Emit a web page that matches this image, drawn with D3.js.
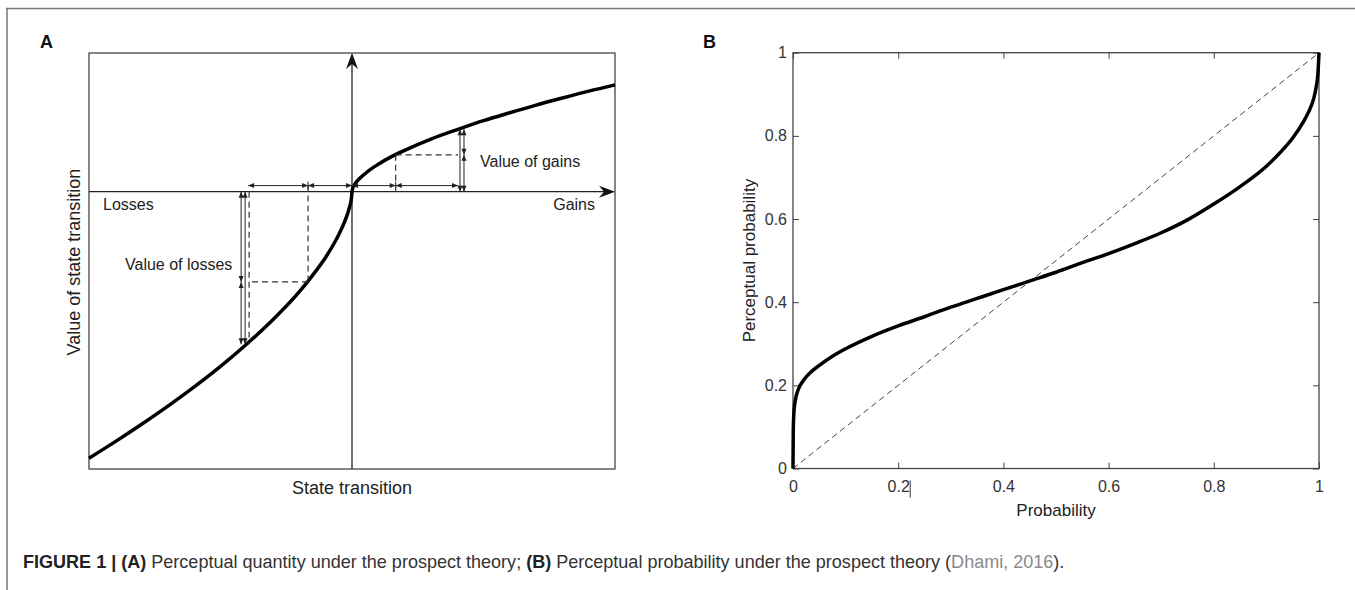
<!DOCTYPE html>
<html><head><meta charset="utf-8">
<script src="https://cdn.jsdelivr.net/npm/d3@7"></script>
<style>
body{margin:0;background:#fff}
svg{display:block}
text{font-family:"Liberation Sans",Arial,Helvetica,sans-serif}
</style>
</head><body>
<svg id="c" width="1355" height="590"></svg>
<script>
// ---------- Panel A data (value function) ----------
const gainX = [0, 0.002, 0.01, 0.03, 0.06, 0.1, 0.15, 0.2, 0.3, 0.4, 0.5, 0.6, 0.7, 0.8, 0.9, 1.0];
const gainV = [0, 0.010, 0.027, 0.051, 0.077, 0.104, 0.133, 0.157, 0.200, 0.236, 0.270, 0.300, 0.329, 0.356, 0.382, 0.406];
const lossX = [-1.0, -0.9, -0.8, -0.7, -0.6, -0.5, -0.4, -0.3, -0.2, -0.15, -0.1, -0.06, -0.03, -0.01, -0.002];
const lossV = [-1.013, -0.950, -0.884, -0.815, -0.742, -0.664, -0.579, -0.486, -0.380, -0.318, -0.249, -0.182, -0.119, -0.061, -0.023];
const exampleGainX = [0.166, 0.403];
const exampleGainV = [0.140, 0.237];
const exampleLossX = [-0.167, -0.395];
const exampleLossV = [-0.343, -0.580];
const stepLevel = 0.023;
const labelsA = {x: "State transition", y: "Value of state transition", losses: "Losses", gains: "Gains",
                 valGains: "Value of gains", valLosses: "Value of losses"};

// ---------- Panel B data (probability weighting) ----------
const probX = [0, 0.0005, 0.002, 0.005, 0.01, 0.02, 0.035, 0.05, 0.075, 0.1, 0.15, 0.2, 0.25, 0.3, 0.35, 0.4, 0.455, 0.5, 0.55, 0.6, 0.65, 0.7, 0.75, 0.8, 0.85, 0.9, 0.93, 0.95, 0.97, 0.98, 0.99, 0.995, 0.998, 1];
const probW = [0, 0.09, 0.14, 0.168, 0.19, 0.212, 0.233, 0.248, 0.27, 0.288, 0.318, 0.343, 0.365, 0.388, 0.409, 0.430, 0.453, 0.472, 0.495, 0.517, 0.541, 0.567, 0.598, 0.636, 0.678, 0.727, 0.765, 0.795, 0.833, 0.857, 0.89, 0.92, 0.95, 1.0];
const diagX = [0, 1];
const diagY = [0, 1];
const ticksB = [0, 0.2, 0.4, 0.6, 0.8, 1];
const tickLabelsB = ["0", "0.2", "0.4", "0.6", "0.8", "1"];
const labelsB = {x: "Probability", y: "Perceptual probability"};

const captionParts = [
  {t: "FIGURE 1 | (A)", w: "bold", c: "#222"},
  {t: " Perceptual quantity under the prospect theory; ", w: "normal", c: "#333"},
  {t: "(B)", w: "bold", c: "#222"},
  {t: " Perceptual probability under the prospect theory (", w: "normal", c: "#333"},
  {t: "Dhami, 2016", w: "normal", c: "#8a8a8a"},
  {t: ").", w: "normal", c: "#333"}
];

const svg = d3.select("#c");

// outer frame
svg.append("line").attr("x1", 6).attr("x2", 1355).attr("y1", 8.5).attr("y2", 8.5).attr("stroke", "#777").attr("stroke-width", 1.5);
svg.append("line").attr("x1", 7).attr("x2", 7).attr("y1", 8).attr("y2", 590).attr("stroke", "#777").attr("stroke-width", 1.5);

// ================= Panel A =================
const xA = d3.scaleLinear().domain([-1, 1]).range([89, 615]);
const yA = d3.scaleLinear().domain([-1.054, 0.527]).range([469, 53]);
const gA = svg.append("g");

gA.append("text").attr("x", 40).attr("y", 48).attr("font-size", 18).attr("font-weight", "bold").attr("fill", "#111").text("A");

gA.append("rect").attr("x", xA(-1)).attr("y", yA(0.527)).attr("width", xA(1) - xA(-1)).attr("height", yA(-1.054) - yA(0.527))
  .attr("fill", "none").attr("stroke", "#444").attr("stroke-width", 1.3);

// axes with arrows
const ax0 = xA(0), ay0 = yA(0);
gA.append("line").attr("x1", ax0).attr("x2", ax0).attr("y1", yA(-1.054)).attr("y2", yA(0.527) + 8).attr("stroke", "#222").attr("stroke-width", 1.3);
gA.append("line").attr("x1", xA(-1)).attr("x2", xA(1) - 8).attr("y1", ay0).attr("y2", ay0).attr("stroke", "#222").attr("stroke-width", 1.3);
{
  const tx = ax0, ty = yA(0.527);
  gA.append("path").attr("d", `M${tx},${ty} L${tx + 6},${ty + 16} L${tx},${ty + 11} L${tx - 6},${ty + 16} Z`).attr("fill", "#111");
  const hx = xA(1), hy = ay0;
  gA.append("path").attr("d", `M${hx},${hy} L${hx - 16},${hy - 6} L${hx - 11},${hy} L${hx - 16},${hy + 6} Z`).attr("fill", "#111");
}

// curve
const curvePts = lossX.map((x, i) => [x, lossV[i]]).concat(gainX.map((x, i) => [x, gainV[i]]));
const lineA = d3.line().x(d => xA(d[0])).y(d => yA(d[1])).curve(d3.curveMonotoneX);
gA.append("path").attr("d", lineA(curvePts)).attr("fill", "none").attr("stroke", "#000").attr("stroke-width", 3.5).attr("stroke-linejoin", "round");

// annotation helpers
function arrowHead(g, x, y, dir) {
  const s = 6, w = 2.5;
  let d;
  if (dir === "left") d = `M${x},${y} L${x + s},${y - w} L${x + s},${y + w} Z`;
  if (dir === "right") d = `M${x},${y} L${x - s},${y - w} L${x - s},${y + w} Z`;
  if (dir === "up") d = `M${x},${y} L${x - w},${y + s} L${x + w},${y + s} Z`;
  if (dir === "down") d = `M${x},${y} L${x - w},${y - s} L${x + w},${y - s} Z`;
  g.append("path").attr("d", d).attr("fill", "#222").attr("stroke", "none");
}
function hDouble(g, x1, x2, y) {
  g.append("line").attr("x1", x1).attr("x2", x2).attr("y1", y).attr("y2", y).attr("stroke", "#222").attr("stroke-width", 1);
  arrowHead(g, Math.min(x1, x2), y, "left");
  arrowHead(g, Math.max(x1, x2), y, "right");
}
function vDouble(g, x, y1, y2) {
  g.append("line").attr("x1", x).attr("x2", x).attr("y1", y1).attr("y2", y2).attr("stroke", "#222").attr("stroke-width", 1);
  arrowHead(g, x, Math.min(y1, y2), "up");
  arrowHead(g, x, Math.max(y1, y2), "down");
}
function dashed(g, x1, y1, x2, y2) {
  g.append("line").attr("x1", x1).attr("x2", x2).attr("y1", y1).attr("y2", y2)
    .attr("stroke", "#333").attr("stroke-width", 1.2).attr("stroke-dasharray", "6,4");
}

const rowY = yA(stepLevel);
// horizontal step arrows
const stepXs = [exampleLossX[1], exampleLossX[0], 0, exampleGainX[0], exampleGainX[1]];
for (let i = 0; i < stepXs.length - 1; i++) hDouble(gA, xA(stepXs[i]), xA(stepXs[i + 1]), rowY);
[exampleLossX[0], exampleGainX[0]].forEach(x => gA.append("line").attr("x1", xA(x)).attr("x2", xA(x)).attr("y1", rowY - 4).attr("y2", rowY + 4).attr("stroke", "#222").attr("stroke-width", 1));

// gains dashed guides
dashed(gA, xA(exampleGainX[0]), yA(exampleGainV[0]), xA(exampleGainX[0]), ay0);
dashed(gA, xA(exampleGainX[0]), yA(exampleGainV[0]), xA(exampleGainX[1]), yA(exampleGainV[0]));
// gains vertical arrows
vDouble(gA, xA(exampleGainX[1]) + 2, yA(exampleGainV[1]), ay0);
vDouble(gA, xA(exampleGainX[1]) + 6, yA(exampleGainV[1]), yA(exampleGainV[0]));
vDouble(gA, xA(exampleGainX[1]) + 6, yA(exampleGainV[0]), ay0);

// losses dashed guides
dashed(gA, xA(exampleLossX[0]), rowY, xA(exampleLossX[0]), yA(exampleLossV[0]));
dashed(gA, xA(exampleLossX[0]), yA(exampleLossV[0]), xA(exampleLossX[1]) + 1, yA(exampleLossV[0]));
dashed(gA, xA(exampleLossX[1]) + 1, ay0, xA(exampleLossX[1]) + 1, yA(exampleLossV[1]));
// losses vertical arrows
vDouble(gA, xA(exampleLossX[1]) - 7, ay0, yA(exampleLossV[0]));
vDouble(gA, xA(exampleLossX[1]) - 7, yA(exampleLossV[0]), yA(exampleLossV[1]));
vDouble(gA, xA(exampleLossX[1]) - 3, ay0, yA(exampleLossV[1]));

// texts panel A
const tA = (x, y, s, anchor, size) => gA.append("text").attr("x", x).attr("y", y).attr("font-size", size || 16)
  .attr("text-anchor", anchor || "start").attr("fill", "#222").text(s);
tA(103, 210, labelsA.losses);
tA(595, 210, labelsA.gains, "end");
tA(480, 167, labelsA.valGains);
tA(125, 270, labelsA.valLosses);
tA(ax0, 494, labelsA.x, "middle", 18);
gA.append("text").attr("transform", `translate(80,262) rotate(-90)`).attr("font-size", 18)
  .attr("text-anchor", "middle").attr("fill", "#222").text(labelsA.y);

// ================= Panel B =================
const xB = d3.scaleLinear().domain([0, 1]).range([793, 1319]);
const yB = d3.scaleLinear().domain([0, 1]).range([468.5, 52.7]);
const gB = svg.append("g");

gB.append("text").attr("x", 703).attr("y", 48).attr("font-size", 18).attr("font-weight", "bold").attr("fill", "#111").text("B");

const fmt = d => tickLabelsB[ticksB.indexOf(d)];
const axStyle = g => { g.select(".domain").remove(); g.selectAll("line").attr("stroke", "#444"); g.selectAll("text").attr("fill", "#333").attr("font-size", 16).attr("font-family", '"Liberation Sans",Arial,sans-serif'); };

gB.append("g").attr("transform", `translate(0,${yB(0)})`)
  .call(d3.axisBottom(xB).tickValues(ticksB).tickFormat(fmt).tickSizeInner(-6).tickSizeOuter(0).tickPadding(12)).call(axStyle);
gB.append("g").attr("transform", `translate(0,${yB(1)})`)
  .call(d3.axisTop(xB).tickValues(ticksB).tickFormat("").tickSizeInner(-6).tickSizeOuter(0)).call(axStyle);
gB.append("g").attr("transform", `translate(${xB(0)},0)`)
  .call(d3.axisLeft(yB).tickValues(ticksB).tickFormat(fmt).tickSizeInner(-6).tickSizeOuter(0).tickPadding(6)).call(axStyle);
gB.append("g").attr("transform", `translate(${xB(1)},0)`)
  .call(d3.axisRight(yB).tickValues(ticksB).tickFormat("").tickSizeInner(-6).tickSizeOuter(0)).call(axStyle);

gB.append("rect").attr("x", xB(0)).attr("y", yB(1)).attr("width", xB(1) - xB(0)).attr("height", yB(0) - yB(1))
  .attr("fill", "none").attr("stroke", "#444").attr("stroke-width", 1.3);

// stray cursor mark after 0.2 label
gB.append("line").attr("x1", xB(0.2) + 12).attr("x2", xB(0.2) + 12).attr("y1", yB(0) + 12).attr("y2", yB(0) + 29).attr("stroke", "#333").attr("stroke-width", 1);

const lineB = d3.line().x(d => xB(d[0])).y(d => yB(d[1]));
gB.append("path").attr("d", lineB(diagX.map((x, i) => [x, diagY[i]]))).attr("fill", "none")
  .attr("stroke", "#444").attr("stroke-width", 1).attr("stroke-dasharray", "6,4");
gB.append("path").attr("d", lineB.curve(d3.curveMonotoneX)(probX.map((x, i) => [x, probW[i]]))).attr("fill", "none")
  .attr("stroke", "#000").attr("stroke-width", 3.5).attr("stroke-linejoin", "round");

gB.append("text").attr("x", xB(0.5)).attr("y", 516).attr("font-size", 17).attr("text-anchor", "middle").attr("fill", "#222").text(labelsB.x);
gB.append("text").attr("transform", `translate(755,${yB(0.5)}) rotate(-90)`).attr("font-size", 17)
  .attr("text-anchor", "middle").attr("fill", "#222").text(labelsB.y);

// ================= Caption =================
const cap = svg.append("text").attr("x", 23).attr("y", 568).attr("font-size", 15);
captionParts.forEach(p => cap.append("tspan").attr("font-weight", p.w).attr("fill", p.c).text(p.t));
const w = cap.node().getComputedTextLength();
cap.attr("font-size", 15 * 1042 / w);
</script>
</body></html>
